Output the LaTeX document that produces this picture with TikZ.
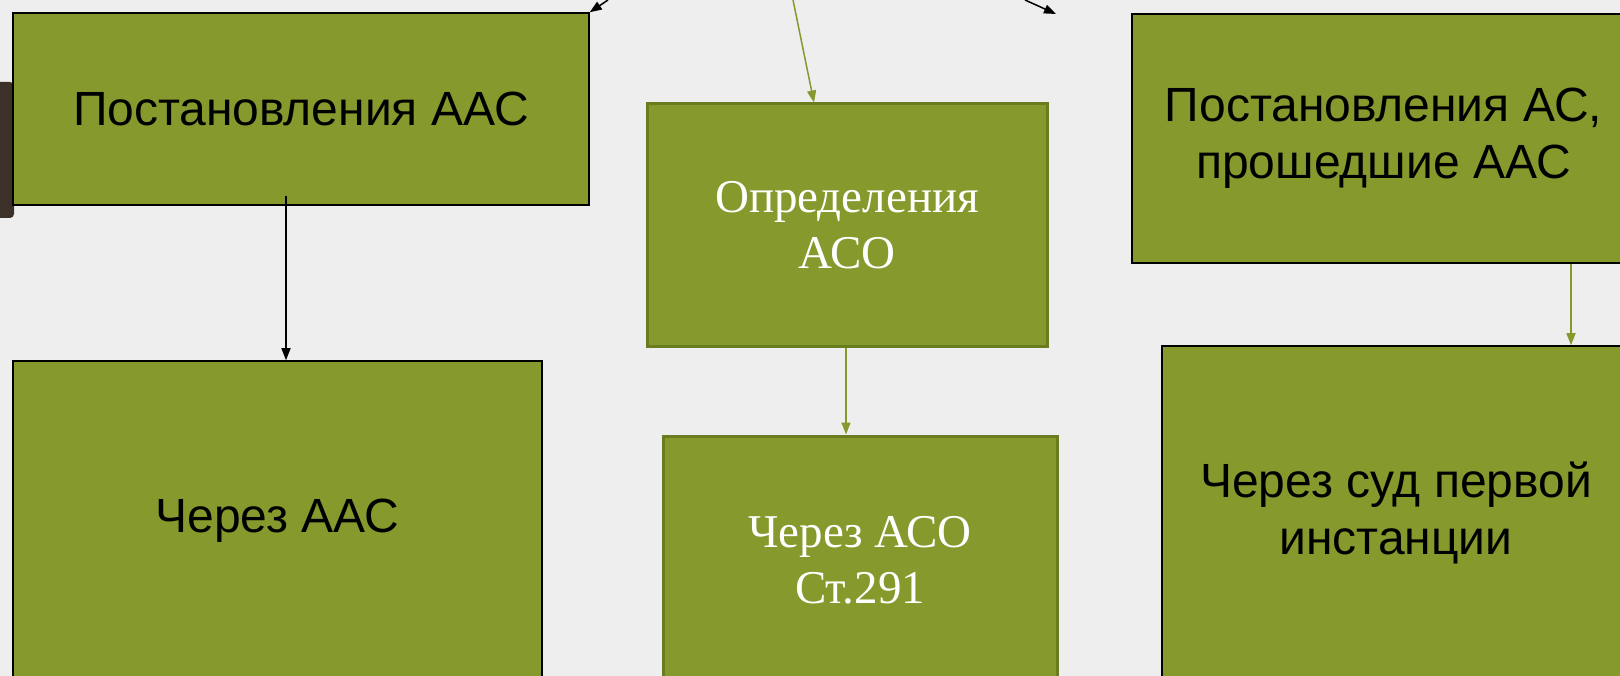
\documentclass[tikz,border=0pt]{standalone}
\usepackage{fontspec}
\newfontfamily\ruSans{Liberation Sans}
\newfontfamily\ruSerif{Liberation Serif}
\usepackage{tikz}
\usetikzlibrary{arrows.meta,positioning,calc}
\definecolor{olivefill}{HTML}{85992C}
\definecolor{olivedark}{HTML}{6A7D1E}
\definecolor{paper}{HTML}{EEEEEE}
\definecolor{binder}{HTML}{3B3129}

\begin{document}
\begin{tikzpicture}[x=1pt,y=-1pt,
court/.style={draw=black,line width=1.5pt,fill=olivefill,inner sep=0pt,
align=center,font=\ruSans\fontsize{48}{57}\selectfont},
detbox/.style={draw=olivedark,line width=3pt,fill=olivefill,inner sep=0pt,
align=center,text=white,font=\ruSerif\fontsize{47}{56}\selectfont},
arr/.style={-{Triangle[length=12pt,width=9pt]},line width=1.5pt},
garr/.style={arr,draw=olivefill,fill=olivefill}
]
\useasboundingbox (0,0) rectangle (1620,676);
\clip (0,0) rectangle (1620,676);
\fill[paper] (0,0) rectangle (1620,676);
\fill[binder,rounded corners=4pt] (-6,82) rectangle (14,218);

% top row
\node[court,minimum width=576pt,minimum height=192pt] (postAAC) at (301,109)
  {Постановления ААС};
\node[detbox,minimum width=400pt,minimum height=243pt] (opredASO) at (847,225.5)
  {Определения\\АСО};
\node[court,minimum width=503pt,minimum height=249pt] (postAC) at (1383.5,138.5)
  {Постановления АС,\\прошедшие ААС};

% bottom row
\node[court,minimum width=529pt,minimum height=320pt] (viaAAC) at (277.5,521)
  {Через ААС};
\node[detbox,minimum width=394pt,minimum height=248pt] (viaASO) at (860,560)
  {Через АСО\\Ст.291};
\node[court,minimum width=468pt,minimum height=334pt] (viaFirst) at (1396,513)
  {Через суд первой\\инстанции};

% incoming from above
\coordinate (inL) at (608,0);
\coordinate (inM) at (793,0);
\coordinate (inR) at (1025,0);
\coordinate (outR) at (1056,14);
\draw[arr] (inL) -- (postAAC.north east);
\draw[garr] (inM) -- ([xshift=-33pt]opredASO.north);
\draw[arr] (inR) -- (outR);

\draw[arr] ([xshift=-15pt,yshift=10pt]postAAC.south)
  -- ([xshift=-15pt]postAAC.south |- viaAAC.north);
\foreach \a/\b/\dx in {opredASO/viaASO/-1,postAC/viaFirst/187.5}
  \draw[garr] ([xshift=\dx pt]\a.south) -- ([xshift=\dx pt]\a.south |- \b.north);
\end{tikzpicture}
\end{document}
